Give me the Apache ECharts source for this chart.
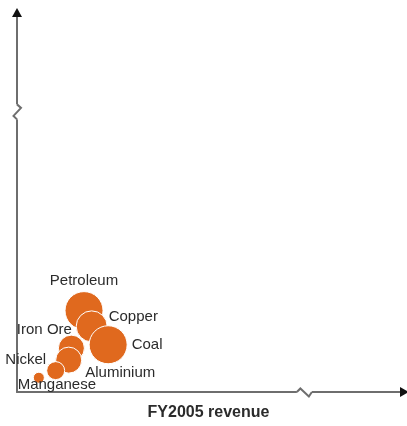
<!DOCTYPE html>
<html><head><meta charset="utf-8">
<script src="https://cdn.jsdelivr.net/npm/echarts@6/dist/echarts.min.js"></script>
<style>html,body{margin:0;padding:0;background:#fff;overflow:hidden}#c{width:407px;height:426px}</style>
</head><body><div id="c"></div>
<script>
const names = ['Petroleum','Copper','Coal','Iron Ore','Aluminium','Nickel','Manganese'];
const revenue = [17.5, 19.5, 23.8, 14.2, 13.5, 10.1, 5.7];
const yValue = [21.7, 17.5, 12.6, 11.7, 8.5, 5.7, 3.8];
const bubbleSize = [38, 31, 38, 26, 26, 18, 11];
const xAxisTitle = 'FY2005 revenue';

const labelCfg = {
  'Petroleum': {position:'top', distance:3, offset:[0,0]},
  'Copper': {position:'right', distance:1, offset:[0,-10]},
  'Coal': {position:'right', distance:4, offset:[0,0]},
  'Iron Ore': {position:'left', distance:0, offset:[14,-18]},
  'Nickel': {position:'left', distance:0, offset:[0,-11]},
  'Aluminium': {position:'right', distance:3, offset:[0,13]},
  'Manganese': {position:'bottom', distance:0, offset:[18,-6]}
};
const FONT = '"Liberation Sans", Arial, sans-serif';
const ORANGE = '#E0691E';

const data = names.map((n,i)=>({
  name:n, value:[revenue[i], yValue[i], bubbleSize[i]],
  label:Object.assign({show:true, formatter:n, color:'#2b2b2b', fontSize:15, fontFamily:FONT}, labelCfg[n])
}));

const chart = echarts.init(document.getElementById('c'));
chart.setOption({
  animation:false,
  grid:{left:17, right:7, top:17, bottom:31, containLabel:false},
  xAxis:{type:'value', min:0, max:100, name:xAxisTitle, nameLocation:'middle', nameGap:13,
    nameTextStyle:{fontSize:16, fontWeight:'bold', color:'#2b2b2b', fontFamily:FONT},
    axisLine:{show:true, lineStyle:{color:'#6e6e6e', width:2}}, axisTick:{show:false}, axisLabel:{show:false}, splitLine:{show:false}},
  yAxis:{type:'value', min:0, max:100,
    axisLine:{show:true, lineStyle:{color:'#6e6e6e', width:2}}, axisTick:{show:false}, axisLabel:{show:false}, splitLine:{show:false}},
  series:[{type:'scatter', data:data, symbolSize:v=>v[2],
    itemStyle:{color:ORANGE, opacity:1, borderColor:'#fff', borderWidth:1}}]
});

const p0 = chart.convertToPixel({gridIndex:0},[0,0]);
const p1 = chart.convertToPixel({gridIndex:0},[100,100]);
const yb = chart.convertToPixel({gridIndex:0},[0,74.7])[1];
const xb = chart.convertToPixel({gridIndex:0},[74.9,0])[0];
const ax = p0[0], ay = p0[1];
const gray = {stroke:'#6e6e6e', lineWidth:2, fill:null};
chart.setOption({graphic:[
  {type:'rect', shape:{x:ax-3, y:yb-7.5, width:6, height:15}, style:{fill:'#fff'}, z:100},
  {type:'polyline', shape:{points:[[ax,yb-7.5],[ax+4,yb-4],[ax-3.5,yb+4],[ax,yb+7.5]]}, style:gray, z:101},
  {type:'rect', shape:{x:xb-7, y:ay-3, width:15, height:6}, style:{fill:'#fff'}, z:100},
  {type:'polyline', shape:{points:[[xb-7,ay],[xb-3.5,ay-3.5],[xb+5,ay+4.5],[xb+8,ay]]}, style:gray, z:101},
  {type:'polygon', shape:{points:[[ax,p1[1]-9],[ax-5,p1[1]],[ax+5,p1[1]]]}, style:{fill:'#111'}, z:102},
  {type:'polygon', shape:{points:[[p1[0]+9,ay],[p1[0],ay-5],[p1[0],ay+5]]}, style:{fill:'#111'}, z:102}
]});
</script></body></html>
